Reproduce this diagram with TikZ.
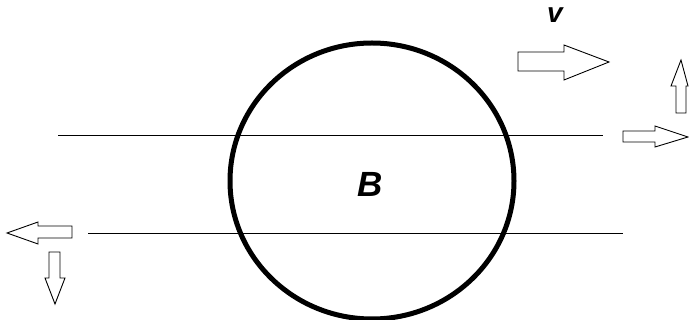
\documentclass[tikz,border=0pt]{standalone}
\usepackage{fontspec}
\setmainfont{Liberation Sans}
\begin{document}
\begin{tikzpicture}[
    x=1pt, y=-1pt,
    field/.style={line width=1pt},
    loop/.style={line width=5pt},
    blockarrow/.style={line width=0.9pt, line join=miter},
    letter/.style={font=\bfseries\itshape, inner sep=1pt}
]
  \useasboundingbox (0,0) rectangle (689,320);

  % Field lines
  \coordinate (top west) at (58,136);
  \coordinate (top east) at (603,136);
  \coordinate (bot west) at (88,234);
  \coordinate (bot east) at (623,234);
  \draw[field] (top west) -- (top east);
  \draw[field] (bot west) -- (bot east);

  % Conducting ring
  \draw[loop] (372,181) ellipse (142 and 138);
  \node[letter, font=\fontsize{35}{35}\selectfont\bfseries\itshape] (B) at (370,184) {B};

  % Velocity arrow
  \node[letter, anchor=base, font=\fontsize{28}{28}\selectfont\bfseries\itshape] (v) at (555,23) {v};
  \draw[blockarrow] (518,52) -- (564,52) -- (564,45) -- (609,62) -- (564,80) -- (564,71) -- (518,71) -- cycle;

  % Force arrows, right side
  \draw[blockarrow] (623,131) -- (655,131) -- (655,126) -- (688,137) -- (655,147) -- (655,142) -- (623,142) -- cycle;
  \draw[blockarrow] (676,113) -- (676,86) -- (671,86) -- (681,60) -- (688,86) -- (686,86) -- (686,113) -- cycle;

  % Force arrows, left side
  \draw[blockarrow] (72,226) -- (38,226) -- (38,222) -- (7,233) -- (38,244) -- (38,238) -- (72,238) -- cycle;
  \draw[blockarrow] (49,252) -- (60,252) -- (60,278) -- (65,278) -- (55,304) -- (45,278) -- (49,278) -- cycle;

\end{tikzpicture}
\end{document}
